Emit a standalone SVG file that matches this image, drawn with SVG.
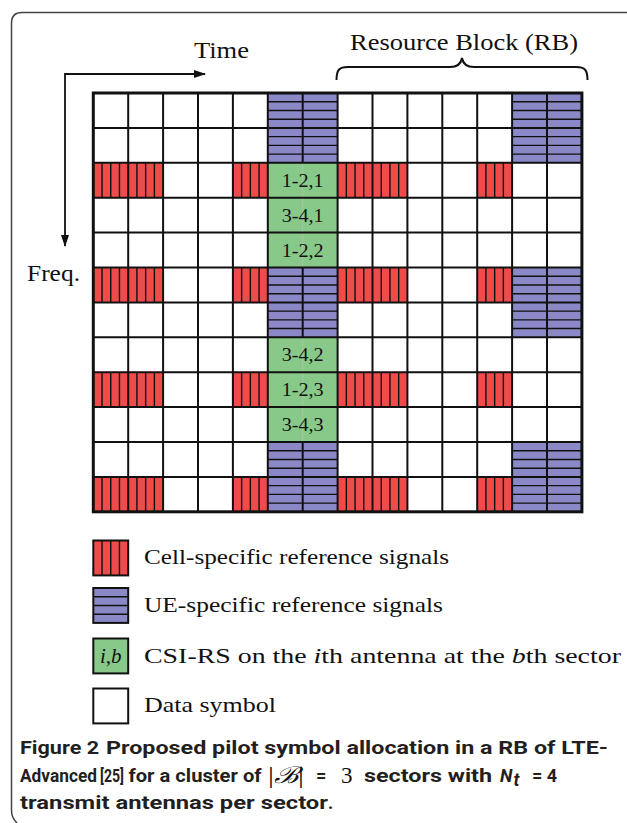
<svg xmlns="http://www.w3.org/2000/svg" xmlns:xlink="http://www.w3.org/1999/xlink" width="627" height="823" viewBox="0 0 627 823">
<style>
.serif{font-family:"Liberation Serif","DejaVu Serif",serif;fill:#111}
.cap{font-family:Roboto,"Liberation Sans",sans-serif;font-weight:700;font-size:18px;fill:#231f20}
.grid{fill:none;stroke:#111;stroke-width:2}
.str{stroke:#111;stroke-width:1.4;fill:none}
.lbl{font-size:19px;text-anchor:middle}
.leg{font-size:22px}
</style>
<defs>
<g id="rs"><rect width="34.9" height="34.9" fill="#F04B4B"/><path class="str" d="M8.725 0V34.9M17.45 0V34.9M26.175 0V34.9"/></g>
<g id="ue"><rect width="34.9" height="34.9" fill="#8A88C6"/><path class="str" d="M0 8.725H34.9M0 17.45H34.9M0 26.175H34.9"/></g>
<marker id="ah" viewBox="0 0 12 8" refX="11" refY="4" markerWidth="12" markerHeight="8" markerUnits="userSpaceOnUse" orient="auto"><path d="M0 0L12 4L0 8Z" fill="#111"/></marker>
</defs>
<rect width="627" height="823" fill="#fff"/>
<path d="M627 12.5H22Q11.5 12.5 11.5 23V810Q11.5 818 17 823" fill="none" stroke="#444" stroke-width="1.5"/>

<text class="serif" x="194" y="58" font-size="23" textLength="55" lengthAdjust="spacingAndGlyphs">Time</text>
<text class="serif" x="350" y="50" font-size="23" textLength="228" lengthAdjust="spacingAndGlyphs">Resource Block (RB)</text>
<text class="serif" x="27" y="281" font-size="23" textLength="53" lengthAdjust="spacingAndGlyphs">Freq.</text>

<g id="connectors">
<path d="M65 74H205" stroke="#111" stroke-width="1.8" fill="none" marker-end="url(#ah)"/>
<path d="M65 73.1V246" stroke="#111" stroke-width="1.8" fill="none" marker-end="url(#ah)"/>
<path d="M336.5 80C336.5 70 339 67 348 67H450C457 67 461 64 462 58C463 64 467 67 474 67H576C585 67 587.5 70 587.5 80" fill="none" stroke="#111" stroke-width="2"/>
</g>

<g id="grid">
<rect x="93.3" y="93" width="488.6" height="418.8" fill="#fff"/>
<g id="cell-rs">
<use xlink:href="#rs" x="93.3" y="162.8"/><use xlink:href="#rs" x="128.2" y="162.8"/><use xlink:href="#rs" x="232.9" y="162.8"/><use xlink:href="#rs" x="337.6" y="162.8"/><use xlink:href="#rs" x="372.5" y="162.8"/><use xlink:href="#rs" x="477.2" y="162.8"/>
<use xlink:href="#rs" x="93.3" y="267.5"/><use xlink:href="#rs" x="128.2" y="267.5"/><use xlink:href="#rs" x="232.9" y="267.5"/><use xlink:href="#rs" x="337.6" y="267.5"/><use xlink:href="#rs" x="372.5" y="267.5"/><use xlink:href="#rs" x="477.2" y="267.5"/>
<use xlink:href="#rs" x="93.3" y="372.2"/><use xlink:href="#rs" x="128.2" y="372.2"/><use xlink:href="#rs" x="232.9" y="372.2"/><use xlink:href="#rs" x="337.6" y="372.2"/><use xlink:href="#rs" x="372.5" y="372.2"/><use xlink:href="#rs" x="477.2" y="372.2"/>
<use xlink:href="#rs" x="93.3" y="476.9"/><use xlink:href="#rs" x="128.2" y="476.9"/><use xlink:href="#rs" x="232.9" y="476.9"/><use xlink:href="#rs" x="337.6" y="476.9"/><use xlink:href="#rs" x="372.5" y="476.9"/><use xlink:href="#rs" x="477.2" y="476.9"/>
</g>
<g id="cell-ue">
<use xlink:href="#ue" x="267.8" y="93"/><use xlink:href="#ue" x="302.7" y="93"/><use xlink:href="#ue" x="512.1" y="93"/><use xlink:href="#ue" x="547" y="93"/>
<use xlink:href="#ue" x="267.8" y="127.9"/><use xlink:href="#ue" x="302.7" y="127.9"/><use xlink:href="#ue" x="512.1" y="127.9"/><use xlink:href="#ue" x="547" y="127.9"/>
<use xlink:href="#ue" x="267.8" y="267.5"/><use xlink:href="#ue" x="302.7" y="267.5"/><use xlink:href="#ue" x="512.1" y="267.5"/><use xlink:href="#ue" x="547" y="267.5"/>
<use xlink:href="#ue" x="267.8" y="302.4"/><use xlink:href="#ue" x="302.7" y="302.4"/><use xlink:href="#ue" x="512.1" y="302.4"/><use xlink:href="#ue" x="547" y="302.4"/>
<use xlink:href="#ue" x="267.8" y="442"/><use xlink:href="#ue" x="302.7" y="442"/><use xlink:href="#ue" x="512.1" y="442"/><use xlink:href="#ue" x="547" y="442"/>
<use xlink:href="#ue" x="267.8" y="476.9"/><use xlink:href="#ue" x="302.7" y="476.9"/><use xlink:href="#ue" x="512.1" y="476.9"/><use xlink:href="#ue" x="547" y="476.9"/>
</g>
<g id="csi-green" fill="#88C98A">
<rect x="267.8" y="162.8" width="69.8" height="34.9"/><rect x="267.8" y="197.7" width="69.8" height="34.9"/><rect x="267.8" y="232.6" width="69.8" height="34.9"/>
<rect x="267.8" y="337.3" width="69.8" height="34.9"/><rect x="267.8" y="372.2" width="69.8" height="34.9"/><rect x="267.8" y="407.1" width="69.8" height="34.9"/>
</g>
<path d="M302.7 162.8V267.5M302.7 337.3V442" stroke="#A9C4A9" stroke-width="1"/>
<path class="grid" d="M93.3 127.9H581.9M93.3 162.8H581.9M93.3 197.7H581.9M93.3 232.6H581.9M93.3 267.5H581.9M93.3 302.4H581.9M93.3 337.3H581.9M93.3 372.2H581.9M93.3 407.1H581.9M93.3 442H581.9M93.3 476.9H581.9M128.2 93V511.8M163.1 93V511.8M198 93V511.8M232.9 93V511.8M267.8 93V511.8M337.6 93V511.8M372.5 93V511.8M407.4 93V511.8M442.3 93V511.8M477.2 93V511.8M512.1 93V511.8M547 93V511.8M302.7 93V162.8M302.7 267.5V337.3M302.7 442V511.8"/>
<rect x="93.3" y="93" width="488.6" height="418.8" fill="none" stroke="#111" stroke-width="3"/>
</g>

<g id="csi-1-2-1"><text class="serif lbl" x="302.7" y="186.7" textLength="42" lengthAdjust="spacingAndGlyphs">1-2,1</text></g>
<g id="csi-3-4-1"><text class="serif lbl" x="302.7" y="221.6" textLength="42" lengthAdjust="spacingAndGlyphs">3-4,1</text></g>
<g id="csi-1-2-2"><text class="serif lbl" x="302.7" y="256.5" textLength="42" lengthAdjust="spacingAndGlyphs">1-2,2</text></g>
<g id="csi-3-4-2"><text class="serif lbl" x="302.7" y="361.2" textLength="42" lengthAdjust="spacingAndGlyphs">3-4,2</text></g>
<g id="csi-1-2-3"><text class="serif lbl" x="302.7" y="396.1" textLength="42" lengthAdjust="spacingAndGlyphs">1-2,3</text></g>
<g id="csi-3-4-3"><text class="serif lbl" x="302.7" y="431" textLength="42" lengthAdjust="spacingAndGlyphs">3-4,3</text></g>

<g id="legend-rs">
<use xlink:href="#rs" x="93.3" y="540.5"/><rect x="93.3" y="540.5" width="34.9" height="34.9" class="grid"/>
<text class="serif leg" x="144" y="564" textLength="305" lengthAdjust="spacingAndGlyphs">Cell-specific reference signals</text>
</g>
<g id="legend-ue">
<use xlink:href="#ue" x="93.3" y="588"/><rect x="93.3" y="588" width="34.9" height="34.9" class="grid"/>
<text class="serif leg" x="144" y="611.5" textLength="299" lengthAdjust="spacingAndGlyphs">UE-specific reference signals</text>
</g>
<g id="legend-csi">
<rect x="93.3" y="638.5" width="34.9" height="34.9" fill="#88C98A" stroke="#111" stroke-width="2"/>
<text class="serif" x="110.7" y="663" font-size="21" font-style="italic" text-anchor="middle">i,b</text>
<text class="serif leg" x="144" y="663" textLength="477" lengthAdjust="spacingAndGlyphs">CSI-RS on the <tspan font-style="italic">i</tspan>th antenna at the <tspan font-style="italic">b</tspan>th sector</text>
</g>
<g id="legend-data">
<rect x="93.3" y="688.5" width="34.9" height="34.9" fill="#fff" stroke="#111" stroke-width="2"/>
<text class="serif leg" x="144" y="712" textLength="132" lengthAdjust="spacingAndGlyphs">Data symbol</text>
</g>

<g id="caption">
<text class="cap" x="20" y="754" font-weight="900" textLength="79" lengthAdjust="spacingAndGlyphs">Figure 2</text>
<text class="cap" x="106" y="754" textLength="502" lengthAdjust="spacingAndGlyphs">Proposed pilot symbol allocation in a RB of LTE-</text>
<text class="cap" x="20" y="782" textLength="77" lengthAdjust="spacingAndGlyphs">Advanced</text>
<text class="cap" x="100" y="782" font-weight="400" fill="#666" textLength="24" lengthAdjust="spacingAndGlyphs">[25]</text>
<text class="cap" x="128.5" y="782" textLength="133" lengthAdjust="spacingAndGlyphs">for a cluster of</text>
<text class="serif" x="268" y="783" font-size="23" textLength="36" lengthAdjust="spacingAndGlyphs">|<tspan font-style="italic">ℬ</tspan>|</text>
<text class="cap" x="316" y="782">=</text>
<text class="serif" x="341" y="783" font-size="23">3</text>
<text class="cap" x="364" y="782" textLength="128" lengthAdjust="spacingAndGlyphs">sectors with</text>
<text class="cap" x="500" y="782" font-style="italic">N</text>
<text class="cap" x="513.5" y="786" font-style="italic" font-size="12">t</text>
<text class="cap" x="532" y="782">= 4</text>
<text class="cap" x="20" y="809" textLength="308" lengthAdjust="spacingAndGlyphs">transmit antennas per sector</text>
<text class="cap" x="328" y="809" font-weight="400">.</text>
</g>
</svg>
